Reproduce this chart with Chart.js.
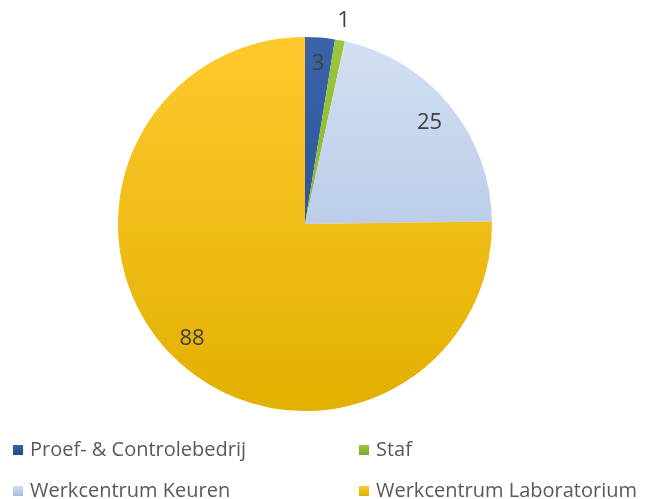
<!DOCTYPE html>
<html>
<head>
<meta charset="utf-8">
<script src="https://cdn.jsdelivr.net/npm/chart.js@4"></script>
<style>
  body { margin: 0; background: #fff; }
  #wrap { position: relative; width: 655px; height: 499px; overflow: hidden; }
  #legend { position: absolute; left: 0; top: 0; width: 655px; height: 499px; pointer-events: none;
            font-family: "Open Sans", sans-serif; font-size: 20px; color: #595959; }
  .item { position: absolute; white-space: nowrap; line-height: 24px; }
  .box { display: inline-block; width: 10px; height: 10px; margin-right: 7px; vertical-align: 1px; }
</style>
</head>
<body>
<div id="wrap">
  <canvas id="pie" width="655" height="499"></canvas>
  <div id="legend"></div>
</div>
<script>
// data
var labels = ['Proef- & Controlebedrij', 'Staf', 'Werkcentrum Keuren', 'Werkcentrum Laboratorium'];
var values = [3, 1, 25, 88];
var topColors = ['#3a63a8', '#9bc53a', '#d3e0f3', '#ffc92e'];
var bottomColors = ['#1f4a8c', '#7ea82a', '#a5badf', '#e2b000'];

var ctx = document.getElementById('pie').getContext('2d');

function grad(i) {
  var g = ctx.createLinearGradient(0, 37, 0, 411);
  g.addColorStop(0, topColors[i]);
  g.addColorStop(1, bottomColors[i]);
  return g;
}

// labels on the slices
var sliceLabels = {
  id: 'sliceLabels',
  afterDatasetsDraw: function (chart) {
    var c = chart.ctx;
    var meta = chart.getDatasetMeta(0);
    c.save();
    c.font = '22px "Open Sans", sans-serif';
    c.fillStyle = '#404040';
    c.textAlign = 'center';
    c.textBaseline = 'middle';
    meta.data.forEach(function (arc, i) {
      var mid = (arc.startAngle + arc.endAngle) / 2;
      var r = values[i] < 2 ? arc.outerRadius + 20 : arc.outerRadius * 0.86;
      c.fillText(String(values[i]), arc.x + Math.cos(mid) * r, arc.y + Math.sin(mid) * r);
    });
    c.restore();
  }
};

var chart = new Chart(ctx, {
  type: 'pie',
  data: {
    labels: labels,
    datasets: [{
      data: values,
      backgroundColor: values.map(function (v, i) { return grad(i); }),
      borderWidth: 0
    }]
  },
  options: {
    responsive: false,
    animation: false,
    layout: { padding: { left: 118, right: 163, top: 37, bottom: 88 } },
    plugins: {
      legend: { display: false },
      tooltip: { enabled: false }
    }
  },
  plugins: [sliceLabels]
});

// legend, two columns
var pos = [[13, 437], [359, 437], [13, 478], [359, 478]];
var lg = document.getElementById('legend');
labels.forEach(function (name, i) {
  var d = document.createElement('div');
  d.className = 'item';
  d.style.left = pos[i][0] + 'px';
  d.style.top = pos[i][1] + 'px';
  d.innerHTML = '<span class="box" style="background:linear-gradient(' + topColors[i] + ',' + bottomColors[i] + ')"></span>';
  d.appendChild(document.createTextNode(name));
  lg.appendChild(d);
});
</script>
</body>
</html>
